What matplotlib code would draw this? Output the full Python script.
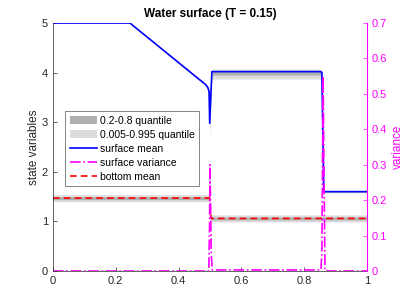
import matplotlib
matplotlib.use("Agg")
import matplotlib.pyplot as plt
from matplotlib.patches import Patch
from matplotlib.lines import Line2D

plt.rcParams['font.family'] = ['Liberation Sans', 'DejaVu Sans']

# surface mean
x_surf = [0.0, 0.245, 0.478, 0.486, 0.493, 0.497, 0.499, 0.503, 0.506, 0.852, 0.856, 0.862, 1.0]
y_surf = [5.0, 5.0, 3.80, 3.76, 3.70, 3.62, 2.98, 3.60, 4.02, 4.02, 4.00, 1.60, 1.60]

# surface quantile bands (light = 0.005-0.995, dark = 0.2-0.8)
x_band = [0.0, 0.245, 0.478, 0.493, 0.497, 0.499, 0.503, 0.506, 0.852, 0.856, 0.862, 1.0]
s_lo_light = [5.0, 5.0, 3.78, 3.68, 3.40, 2.70, 3.40, 3.87, 3.87, 3.85, 1.58, 1.58]
s_hi_light = [5.0, 5.0, 3.82, 3.72, 3.66, 3.20, 3.80, 4.07, 4.07, 4.06, 1.62, 1.62]
s_lo_dark = [5.0, 5.0, 3.79, 3.69, 3.50, 2.85, 3.50, 3.95, 3.95, 3.93, 1.59, 1.59]
s_hi_dark = [5.0, 5.0, 3.81, 3.71, 3.64, 3.10, 3.70, 4.04, 4.04, 4.03, 1.61, 1.61]

# bottom mean and quantiles
x_bot = [0.0, 0.499, 0.503, 1.0]
y_bot = [1.47, 1.47, 1.06, 1.06]
b_lo_light = [1.40, 1.40, 0.99, 0.99]
b_hi_light = [1.54, 1.54, 1.13, 1.13]
b_lo_dark = [1.44, 1.44, 1.03, 1.03]
b_hi_dark = [1.50, 1.50, 1.09, 1.09]

# surface variance
x_var = [0.0, 0.496, 0.4985, 0.500, 0.5015, 0.504, 0.507, 0.853, 0.856, 0.8585, 0.860, 0.8625, 0.866, 1.0]
y_var = [0.0, 0.0, 0.12, 0.30, 0.20, 0.05, 0.003, 0.003, 0.05, 0.35, 0.55, 0.30, 0.0, 0.0]

xticks = [0, 0.2, 0.4, 0.6, 0.8, 1]
xticklabels = ['0', '0.2', '0.4', '0.6', '0.8', '1']
yticks = [0, 1, 2, 3, 4, 5]
y2ticks = [0, 0.1, 0.2, 0.3, 0.4, 0.5, 0.6, 0.7]

light = '#dcdcdc'
dark = '#b0b0b0'
mag = '#ff00ff'
axcol = '#262626'

fig = plt.figure(figsize=(4.07, 3.05), dpi=100)
ax = fig.add_axes([0.130, 0.1115, 0.772, 0.813])

ax.fill_between(x_band, s_lo_light, s_hi_light, color=light, lw=0)
ax.fill_between(x_band, s_lo_dark, s_hi_dark, color=dark, lw=0)
ax.fill_between(x_bot, b_lo_light, b_hi_light, color=light, lw=0)
ax.fill_between(x_bot, b_lo_dark, b_hi_dark, color=dark, lw=0)
ax.plot(x_surf, y_surf, color='#0000ff', lw=1.2)
ax.plot(x_bot, y_bot, color='#ff0000', lw=1.2, ls=(0, (4, 2.5)))

ax.set_xlim(0, 1)
ax.set_ylim(0, 5)
ax.set_xticks(xticks)
ax.set_xticklabels(xticklabels)
ax.set_yticks(yticks)
ax.tick_params(direction='in', length=3, width=0.5, colors=axcol, labelsize=8, top=False)
ax.spines['top'].set_visible(False)
ax.spines['right'].set_visible(False)
for s in ['left', 'bottom']:
    ax.spines[s].set_color(axcol)
    ax.spines[s].set_linewidth(0.5)
ax.set_ylabel('state variables', fontsize=8.5, color=axcol, labelpad=1)
ax.set_title('Water surface (T = 0.15)', fontsize=8.5, fontweight='bold', pad=4)

ax2 = ax.twinx()
ax2.plot(x_var, y_var, color=mag, lw=1.2, ls='-.')
ax2.set_ylim(0, 0.7)
ax2.set_yticks(y2ticks)
ax2.set_yticklabels(['0', '0.1', '0.2', '0.3', '0.4', '0.5', '0.6', '0.7'])
ax2.tick_params(direction='in', length=3, width=0.5, colors=mag, labelsize=8)
for s in ['top', 'left', 'bottom']:
    ax2.spines[s].set_visible(False)
ax2.spines['right'].set_color(mag)
ax2.spines['right'].set_linewidth(0.8)
ax2.set_ylabel('variance', fontsize=8.5, color=mag, labelpad=3)

handles = [Patch(facecolor=dark, edgecolor='none'),
           Patch(facecolor=light, edgecolor='none'),
           Line2D([], [], color='#0000ff', lw=1.2),
           Line2D([], [], color=mag, lw=1.2, ls='-.'),
           Line2D([], [], color='#ff0000', lw=1.2, ls=(0, (4, 2.5)))]
labels = ['0.2-0.8 quantile', '0.005-0.995 quantile', 'surface mean',
          'surface variance', 'bottom mean']
leg = ax2.legend(handles, labels, loc='upper left', bbox_to_anchor=(0.038, 0.645),
                 fontsize=7.5, frameon=True, fancybox=False, borderpad=0.45,
                 labelspacing=0.38, handlelength=2.6, handletextpad=0.3,
                 borderaxespad=0)
leg.get_frame().set_edgecolor('#262626')
leg.get_frame().set_linewidth(0.5)

fig.savefig('out.png', dpi=100)
